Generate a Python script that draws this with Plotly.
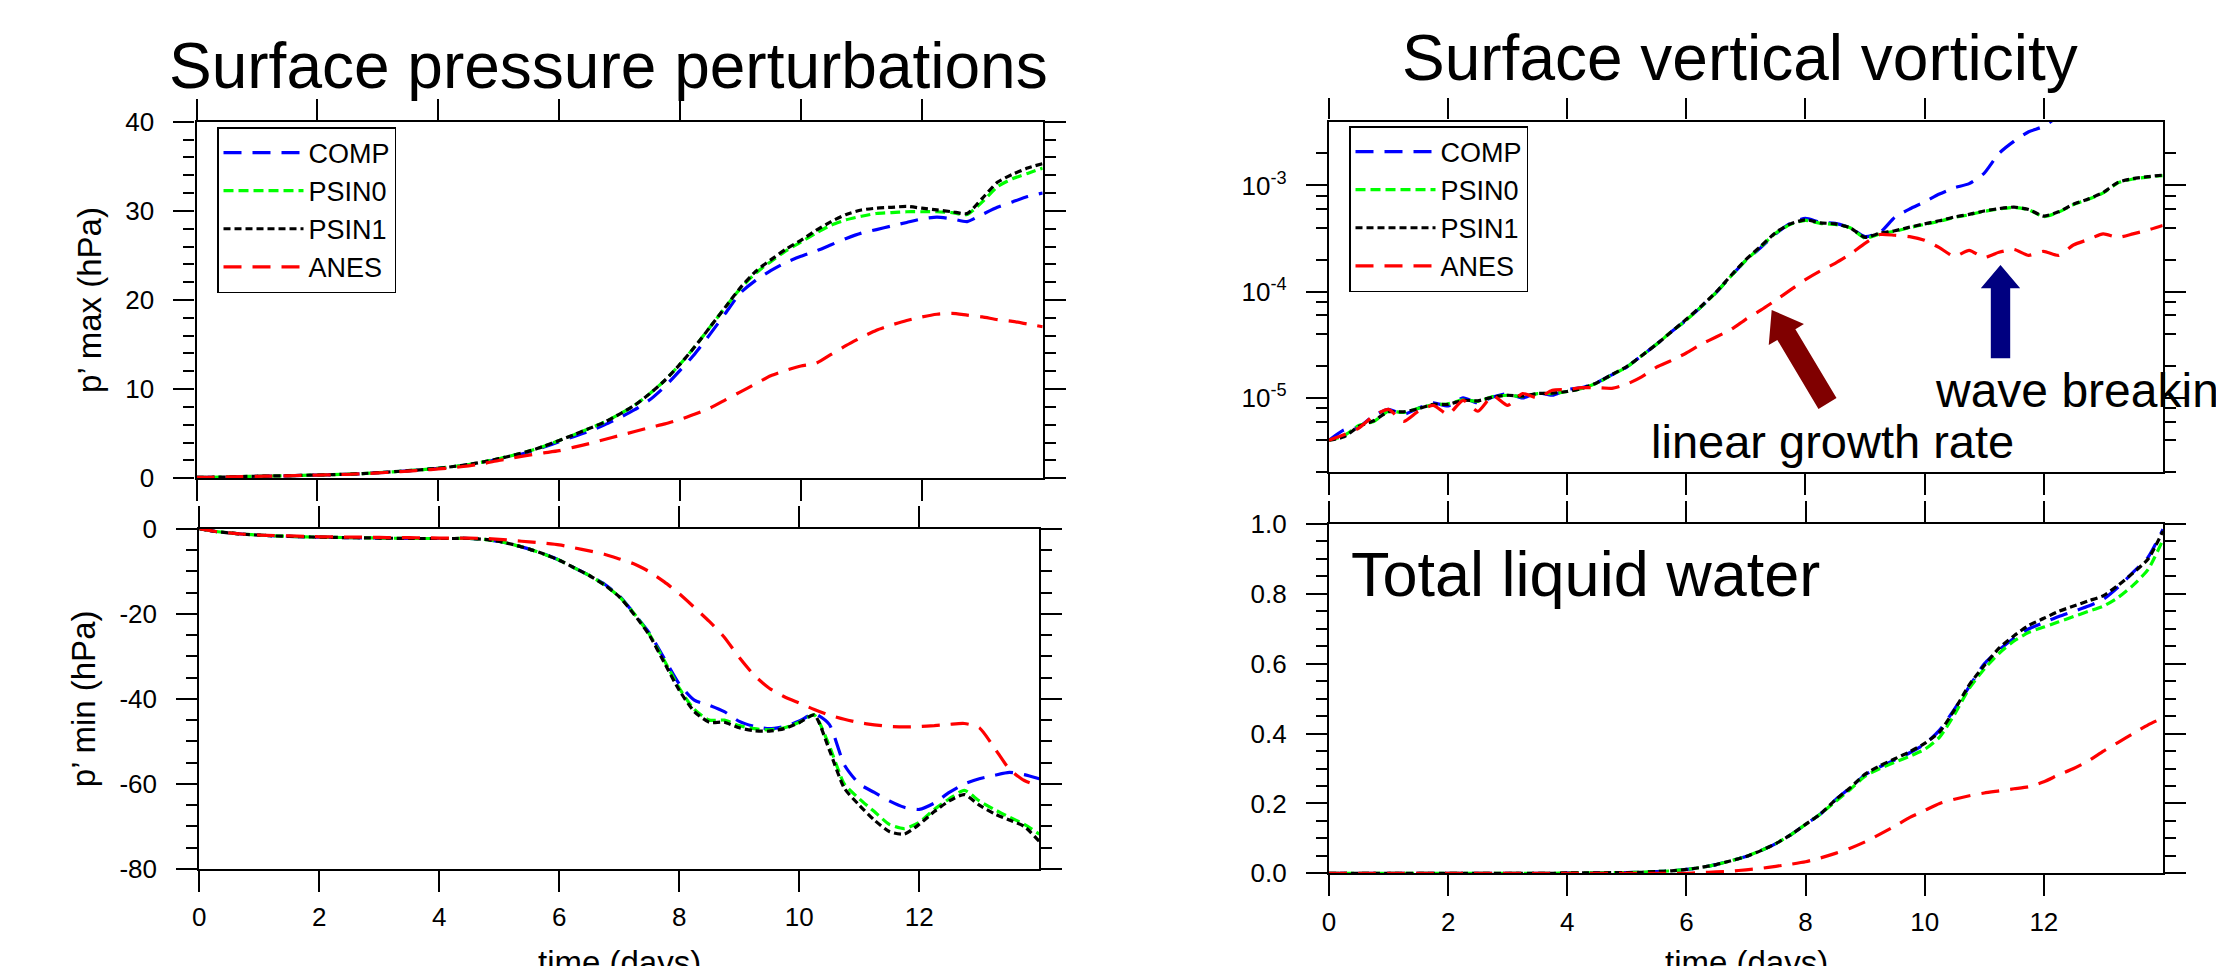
import math
import plotly.graph_objects as go

W, H = 2216, 966

# ---------------- data ----------------
days = [i / 4 for i in range(57)]  # 0 .. 14 days, 6-hourly

pmax_comp = [0.10, 0.12, 0.15, 0.18, 0.22, 0.25, 0.28, 0.32, 0.36, 0.40, 0.45, 0.52, 0.62, 0.72, 0.84, 0.97,
             1.12, 1.30, 1.50, 1.80, 2.15, 2.50, 2.95, 3.50, 4.10, 4.70, 5.30, 6.00, 6.80, 7.70, 8.80, 10.3,
             12.1, 14.0, 16.2, 18.5, 20.8, 22.2, 23.3, 24.2, 24.9, 25.5, 26.2, 26.9, 27.5, 27.9, 28.3, 28.7,
             29.1, 29.3, 29.1, 28.8, 29.6, 30.4, 31.0, 31.6, 32.0]
pmax_psin0 = [0.10, 0.12, 0.15, 0.19, 0.23, 0.26, 0.29, 0.33, 0.37, 0.41, 0.46, 0.53, 0.63, 0.73, 0.85, 0.98,
              1.13, 1.32, 1.55, 1.85, 2.20, 2.60, 3.05, 3.60, 4.25, 4.90, 5.60, 6.30, 7.20, 8.20, 9.50, 11.0,
              12.8, 14.8, 17.0, 19.2, 21.3, 23.0, 24.3, 25.5, 26.5, 27.5, 28.4, 29.0, 29.4, 29.7, 29.8, 29.9,
              29.9, 29.9, 29.8, 29.6, 31.0, 32.7, 33.6, 34.2, 34.8]
pmax_psin1 = [0.10, 0.12, 0.15, 0.19, 0.23, 0.26, 0.29, 0.33, 0.37, 0.41, 0.46, 0.53, 0.63, 0.73, 0.85, 0.98,
              1.13, 1.32, 1.55, 1.85, 2.20, 2.60, 3.05, 3.60, 4.25, 4.90, 5.60, 6.30, 7.20, 8.20, 9.50, 11.0,
              12.8, 14.8, 17.0, 19.2, 21.4, 23.2, 24.5, 25.7, 26.7, 27.8, 28.8, 29.6, 30.1, 30.3, 30.4, 30.5,
              30.3, 30.1, 29.9, 29.7, 31.4, 33.2, 34.1, 34.8, 35.3]
pmax_anes = [0.10, 0.12, 0.15, 0.18, 0.22, 0.25, 0.28, 0.32, 0.36, 0.40, 0.45, 0.52, 0.60, 0.70, 0.80, 0.92,
             1.05, 1.20, 1.40, 1.65, 2.00, 2.30, 2.60, 2.85, 3.10, 3.50, 3.90, 4.35, 4.80, 5.25, 5.70, 6.10,
             6.60, 7.20, 7.90, 8.80, 9.70, 10.6, 11.5, 12.1, 12.6, 12.9, 13.9, 14.9, 15.8, 16.6, 17.2, 17.7,
             18.1, 18.4, 18.5, 18.3, 18.1, 17.8, 17.6, 17.3, 17.0]

pmin_comp = [0.0, -0.6, -1.0, -1.3, -1.5, -1.7, -1.8, -1.9, -2.0, -2.05, -2.1, -2.15, -2.2, -2.25, -2.3, -2.3,
             -2.3, -2.3, -2.3, -2.5, -3.0, -3.8, -4.8, -6.0, -7.4, -9.2, -11.0, -13.0, -15.8, -20.0, -24.5, -30.5,
             -36.5, -40.3, -41.5, -43.0, -45.3, -46.5, -47.0, -46.5, -45.2, -43.5, -46.0, -55.5, -60.0, -62.0, -64.0, -65.5,
             -66.0, -64.5, -62.0, -60.0, -58.8, -58.0, -57.3, -57.8, -58.8]
pmin_psin0 = [0.0, -0.6, -1.0, -1.3, -1.5, -1.7, -1.8, -1.9, -2.0, -2.05, -2.1, -2.15, -2.2, -2.25, -2.3, -2.3,
              -2.3, -2.3, -2.3, -2.5, -3.0, -3.8, -4.8, -6.0, -7.4, -9.2, -11.0, -13.2, -16.0, -20.0, -24.8, -31.0,
              -37.5, -42.5, -45.0, -45.0, -46.3, -47.0, -47.3, -46.8, -45.5, -43.8, -51.0, -60.0, -63.5, -66.5, -69.5, -70.5,
              -69.0, -66.0, -63.5, -61.5, -64.0, -66.0, -67.8, -69.5, -71.8]
pmin_psin1 = [0.0, -0.6, -1.0, -1.3, -1.5, -1.7, -1.8, -1.9, -2.0, -2.05, -2.1, -2.15, -2.2, -2.25, -2.3, -2.3,
              -2.3, -2.3, -2.3, -2.5, -3.0, -3.8, -4.8, -6.0, -7.4, -9.2, -11.0, -13.2, -16.0, -20.2, -25.0, -31.5,
              -38.0, -43.0, -45.5, -45.5, -46.8, -47.5, -47.6, -47.0, -45.6, -43.8, -52.0, -61.0, -65.0, -68.5, -71.2, -71.8,
              -69.5, -66.5, -64.0, -62.5, -65.0, -67.0, -68.5, -70.0, -73.5]
pmin_anes = [0.0, -0.6, -1.0, -1.3, -1.5, -1.6, -1.7, -1.8, -1.9, -1.95, -2.0, -2.0, -2.05, -2.1, -2.1, -2.15,
             -2.2, -2.2, -2.2, -2.3, -2.5, -2.8, -3.1, -3.4, -3.8, -4.5, -5.2, -6.0, -7.1, -8.3, -10.1, -12.5,
             -15.3, -18.5, -21.8, -25.5, -30.3, -34.5, -37.5, -39.5, -41.0, -42.5, -43.8, -44.8, -45.6, -46.1, -46.5, -46.6,
             -46.5, -46.3, -46.0, -45.8, -46.8, -51.5, -56.5, -59.2, -60.5]

vort_comp = [4.0e-6, 5.0e-6, 5.3e-6, 6.8e-6, 7.8e-6, 7.0e-6, 8.0e-6, 9.0e-6, 8.4e-6, 1.00e-5, 9.0e-6, 1.02e-5, 1.10e-5, 1.00e-5, 1.12e-5, 1.06e-5,
             1.20e-5, 1.25e-5, 1.40e-5, 1.65e-5, 1.95e-5, 2.5e-5, 3.2e-5, 4.2e-5, 5.4e-5, 7.2e-5, 9.8e-5, 1.40e-4, 1.97e-4, 2.60e-4, 3.50e-4, 4.40e-4,
             4.90e-4, 4.50e-4, 4.40e-4, 4.00e-4, 3.30e-4, 3.60e-4, 5.00e-4, 6.00e-4, 7.00e-4, 8.30e-4, 9.50e-4, 1.04e-3, 1.30e-3, 2.00e-3, 2.60e-3, 3.20e-3,
             3.60e-3, 4.50e-3, None, None, None, None, None, None, None]
vort_psin0 = [4.0e-6, 4.4e-6, 5.5e-6, 6.0e-6, 7.5e-6, 7.3e-6, 8.0e-6, 8.6e-6, 8.8e-6, 9.6e-6, 9.3e-6, 1.03e-5, 1.06e-5, 1.03e-5, 1.10e-5, 1.10e-5,
              1.15e-5, 1.23e-5, 1.38e-5, 1.65e-5, 1.95e-5, 2.5e-5, 3.2e-5, 4.2e-5, 5.4e-5, 7.2e-5, 9.8e-5, 1.40e-4, 1.97e-4, 2.65e-4, 3.55e-4, 4.30e-4,
              4.70e-4, 4.40e-4, 4.30e-4, 4.00e-4, 3.20e-4, 3.50e-4, 3.70e-4, 4.00e-4, 4.30e-4, 4.60e-4, 5.00e-4, 5.30e-4, 5.70e-4, 6.00e-4, 6.20e-4, 5.90e-4,
              5.10e-4, 5.60e-4, 6.60e-4, 7.40e-4, 8.50e-4, 1.06e-3, 1.15e-3, 1.20e-3, 1.24e-3]
vort_psin1 = [4.0e-6, 4.3e-6, 5.4e-6, 6.1e-6, 7.4e-6, 7.4e-6, 7.9e-6, 8.7e-6, 8.7e-6, 9.5e-6, 9.4e-6, 1.02e-5, 1.06e-5, 1.04e-5, 1.10e-5, 1.11e-5,
              1.15e-5, 1.23e-5, 1.39e-5, 1.66e-5, 1.97e-5, 2.5e-5, 3.2e-5, 4.2e-5, 5.5e-5, 7.3e-5, 9.9e-5, 1.42e-4, 2.00e-4, 2.68e-4, 3.60e-4, 4.35e-4,
              4.75e-4, 4.45e-4, 4.35e-4, 4.00e-4, 3.25e-4, 3.55e-4, 3.75e-4, 4.05e-4, 4.35e-4, 4.65e-4, 5.05e-4, 5.35e-4, 5.75e-4, 6.05e-4, 6.25e-4, 5.95e-4,
              5.15e-4, 5.65e-4, 6.65e-4, 7.45e-4, 8.60e-4, 1.07e-3, 1.16e-3, 1.21e-3, 1.25e-3]
vort_anes = [4.0e-6, 4.5e-6, 5.2e-6, 6.8e-6, 7.8e-6, 6.0e-6, 7.5e-6, 8.5e-6, 7.0e-6, 9.5e-6, 7.5e-6, 1.05e-5, 8.5e-6, 1.10e-5, 1.00e-5, 1.18e-5,
             1.20e-5, 1.25e-5, 1.25e-5, 1.23e-5, 1.35e-5, 1.58e-5, 1.95e-5, 2.25e-5, 2.65e-5, 3.2e-5, 3.75e-5, 4.4e-5, 5.5e-5, 6.7e-5, 8.3e-5, 1.04e-4,
             1.30e-4, 1.57e-4, 1.85e-4, 2.25e-4, 2.85e-4, 3.45e-4, 3.40e-4, 3.30e-4, 3.05e-4, 2.60e-4, 2.15e-4, 2.45e-4, 2.10e-4, 2.35e-4, 2.50e-4, 2.20e-4,
             2.40e-4, 2.20e-4, 2.75e-4, 3.10e-4, 3.50e-4, 3.25e-4, 3.50e-4, 3.80e-4, 4.20e-4]

lw_comp = [0, 0, 0, 0, 0, 0, 0, 0, 0, 0, 0, 0, 0, 0, 0, 0,
           0.001, 0.001, 0.001, 0.002, 0.002, 0.003, 0.005, 0.007, 0.011, 0.017, 0.025, 0.036, 0.048, 0.065, 0.085, 0.11,
           0.14, 0.17, 0.21, 0.245, 0.282, 0.305, 0.325, 0.345, 0.37, 0.41, 0.47, 0.535, 0.60, 0.64, 0.673, 0.70,
           0.718, 0.735, 0.75, 0.765, 0.785, 0.82, 0.862, 0.905, 0.985]
lw_psin0 = [0, 0, 0, 0, 0, 0, 0, 0, 0, 0, 0, 0, 0, 0, 0, 0,
            0.001, 0.001, 0.001, 0.002, 0.002, 0.003, 0.005, 0.007, 0.011, 0.017, 0.025, 0.036, 0.048, 0.065, 0.085, 0.11,
            0.14, 0.17, 0.205, 0.24, 0.278, 0.30, 0.318, 0.335, 0.355, 0.39, 0.455, 0.53, 0.585, 0.63, 0.665, 0.69,
            0.705, 0.72, 0.735, 0.75, 0.765, 0.79, 0.825, 0.87, 0.955]
lw_psin1 = [0, 0, 0, 0, 0, 0, 0, 0, 0, 0, 0, 0, 0, 0, 0, 0,
            0.001, 0.001, 0.001, 0.002, 0.002, 0.003, 0.005, 0.007, 0.011, 0.017, 0.025, 0.036, 0.048, 0.065, 0.085, 0.11,
            0.14, 0.17, 0.21, 0.245, 0.284, 0.308, 0.328, 0.348, 0.372, 0.405, 0.468, 0.54, 0.595, 0.645, 0.68, 0.71,
            0.73, 0.75, 0.765, 0.78, 0.795, 0.825, 0.86, 0.90, 0.98]
lw_anes = [0, 0, 0, 0, 0, 0, 0, 0, 0, 0, 0, 0, 0, 0, 0, 0,
           0, 0, 0, 0, 0, 0, 0, 0, 0, 0.002, 0.004, 0.006, 0.010, 0.014, 0.020, 0.026,
           0.033, 0.044, 0.057, 0.072, 0.09, 0.112, 0.135, 0.16, 0.18, 0.20, 0.212, 0.222, 0.23, 0.236, 0.242, 0.248,
           0.262, 0.282, 0.30, 0.322, 0.35, 0.375, 0.40, 0.425, 0.445]

series_names = ["COMP", "PSIN0", "PSIN1", "ANES"]
series_colors = ["#0000ff", "#00ff00", "#000000", "#ff0000"]
series_dash = ["18px,11px", "10px,5px", "7px,4px", "18px,11px"]

day_ticks = [0, 2, 4, 6, 8, 10, 12]
pmax_ticks = [0, 10, 20, 30, 40]
pmin_ticks = [-80, -60, -40, -20, 0]
pmin_ticktext = ["-80", "-60", "-40", "-20", "0"]
vort_ticks = [1e-5, 1e-4, 1e-3]
vort_ticktext = ["10<sup>-5</sup>", "10<sup>-4</sup>", "10<sup>-3</sup>"]
vort_minor = [2e-6, 4e-6, 6e-6, 8e-6, 2e-5, 4e-5, 6e-5, 8e-5,
              2e-4, 4e-4, 6e-4, 8e-4, 2e-3]
lw_ticks = [0.0, 0.2, 0.4, 0.6, 0.8, 1.0]

# ---------------- layout helpers (pixel -> paper) ----------------
def fx(p):
    return p / W


def fy(p):
    return 1 - p / H


FONT = "Liberation Sans, Arial, Helvetica, sans-serif"
TICKFONT = dict(family=FONT, size=26, color="black")

fig = go.Figure()

panels = [
    ("x", "y", [pmax_comp, pmax_psin0, pmax_psin1, pmax_anes], "legend"),
    ("x2", "y2", [pmin_comp, pmin_psin0, pmin_psin1, pmin_anes], None),
    ("x3", "y3", [vort_comp, vort_psin0, vort_psin1, vort_anes], "legend2"),
    ("x4", "y4", [lw_comp, lw_psin0, lw_psin1, lw_anes], None),
]
for xa, ya, data, leg in panels:
    for name, col, dash, vals in zip(series_names, series_colors, series_dash, data):
        fig.add_trace(go.Scatter(
            x=days, y=vals, name=name, mode="lines",
            line=dict(color=col, width=3.2, dash=dash, shape="spline", smoothing=0.6),
            xaxis=xa, yaxis=ya,
            showlegend=leg is not None, legend=leg if leg else "legend",
        ))

TICKLEN, MINORLEN = 21, 11


def xax(domain, anchor, labels):
    return dict(domain=domain, anchor=anchor, range=[0, 14], tickvals=day_ticks,
                showticklabels=labels, ticks="outside", ticklen=TICKLEN, tickwidth=2,
                tickcolor="black", showline=True, linewidth=2.2, linecolor="black",
                mirror="ticks", showgrid=False, zeroline=False,
                tickfont=TICKFONT, ticklabelstandoff=3)


def yax(domain, anchor, rng, **kw):
    d = dict(domain=domain, anchor=anchor, range=rng, ticks="outside", ticklen=TICKLEN,
             tickwidth=2, tickcolor="black", showline=True, linewidth=2.2, linecolor="black",
             mirror="ticks", showgrid=False, zeroline=False,
             tickfont=TICKFONT, ticklabelstandoff=14)
    d.update(kw)
    return d


minor_common = dict(ticks="outside", ticklen=MINORLEN, tickwidth=1.5, tickcolor="black", showgrid=False)

title_font = dict(family=FONT, size=33, color="black")

fig.update_layout(
    width=W, height=H,
    margin=dict(l=0, r=0, t=0, b=0, autoexpand=False),
    paper_bgcolor="white", plot_bgcolor="white",
    font=dict(family=FONT, color="black"),
    xaxis=xax([fx(196.5), fx(1042.7)], "y", False),
    yaxis=yax([fy(478.3), fy(121.7)], "x", [0, 40], tickvals=pmax_ticks,
              minor=dict(dtick=2, **minor_common),
              title=dict(text="p’ max (hPa)", font=title_font, standoff=14)),
    xaxis2=xax([fx(199.3), fx(1039.3)], "y2", True),
    yaxis2=yax([fy(869), fy(528.7)], "x2", [-80, 0], tickvals=pmin_ticks, ticktext=pmin_ticktext,
               minor=dict(dtick=5, **minor_common),
               title=dict(text="p’ min (hPa)", font=title_font, standoff=14)),
    xaxis3=xax([fx(1329), fx(2162.7)], "y3", False),
    yaxis3=yax([fy(472.2), fy(121.5)], "x3", [math.log10(2e-6), math.log10(4e-3)], type="log",
               tickvals=vort_ticks, ticktext=vort_ticktext,
               minor=dict(tickvals=vort_minor, **minor_common)),
    xaxis4=xax([fx(1329), fx(2163)], "y4", True),
    yaxis4=yax([fy(873.3), fy(524)], "x4", [0, 1], tickvals=lw_ticks, tickformat=".1f",
               minor=dict(dtick=0.05, **minor_common)),
)

legend_common = dict(xanchor="left", yanchor="top", bgcolor="white", bordercolor="black",
                     borderwidth=1.5, font=dict(family=FONT, size=27, color="black"),
                     itemwidth=80, tracegroupgap=0)
fig.update_layout(
    legend=dict(x=fx(217), y=fy(127), **legend_common),
    legend2=dict(x=fx(1349), y=fy(126), **legend_common),
)

# titles and text labels
ann = [
    dict(text="Surface pressure perturbations", x=fx(608), y=fy(66), size=64),
    dict(text="Surface vertical vorticity", x=fx(1740), y=fy(58), size=64),
    dict(text="linear growth rate", x=fx(1832), y=fy(441), size=47),
]
for a in ann:
    fig.add_annotation(text=a["text"], x=a["x"], y=a["y"], xref="paper", yref="paper",
                       xanchor="center", yanchor="middle", showarrow=False,
                       font=dict(family=FONT, size=a["size"], color="black"))
# x-axis titles (sit partly below the bottom edge, as in the original)
for cx in (619.3, 1746):
    fig.add_annotation(text="time (days)", x=fx(cx), y=fy(942), xref="paper", yref="paper",
                       xanchor="center", yanchor="top", showarrow=False,
                       font=title_font)
fig.add_annotation(text="wave breaking", x=fx(1933), y=fy(390), xref="paper", yref="paper",
                   xanchor="left", yanchor="middle", showarrow=False,
                   font=dict(family=FONT, size=48, color="black"))
fig.add_annotation(text="Total liquid water", x=fx(1349), y=fy(574), xref="paper", yref="paper",
                   xanchor="left", yanchor="middle", showarrow=False,
                   font=dict(family=FONT, size=63, color="black"))


# block arrows (annotation graphics) in pixel geometry
def block_arrow(tail, tip, shaft_half, head_half, head_len, color):
    tx, ty = tail
    px_, py_ = tip
    L = math.hypot(px_ - tx, py_ - ty)
    ux, uy = (px_ - tx) / L, (py_ - ty) / L
    nx, ny = -uy, ux
    bx, by = px_ - ux * head_len, py_ - uy * head_len
    pts = [
        (tx + nx * shaft_half, ty + ny * shaft_half),
        (bx + nx * shaft_half, by + ny * shaft_half),
        (bx + nx * head_half, by + ny * head_half),
        (px_, py_),
        (bx - nx * head_half, by - ny * head_half),
        (bx - nx * shaft_half, by - ny * shaft_half),
        (tx - nx * shaft_half, ty - ny * shaft_half),
    ]
    path = "M " + " L ".join(f"{fx(x):.5f},{fy(y):.5f}" for x, y in pts) + " Z"
    fig.add_shape(type="path", path=path, xref="paper", yref="paper",
                  fillcolor=color, line=dict(width=0), layer="above")


block_arrow((1827.5, 403.5), (1771.7, 310), 10.5, 20.5, 28.6, "#800000")
block_arrow((2000.5, 358.3), (2000.5, 265), 9.7, 19.7, 23.3, "#000080")

fig.write_html("out.html", config={"displayModeBar": False},
               post_script="document.body.style.margin='0px';document.body.style.padding='0px';")
